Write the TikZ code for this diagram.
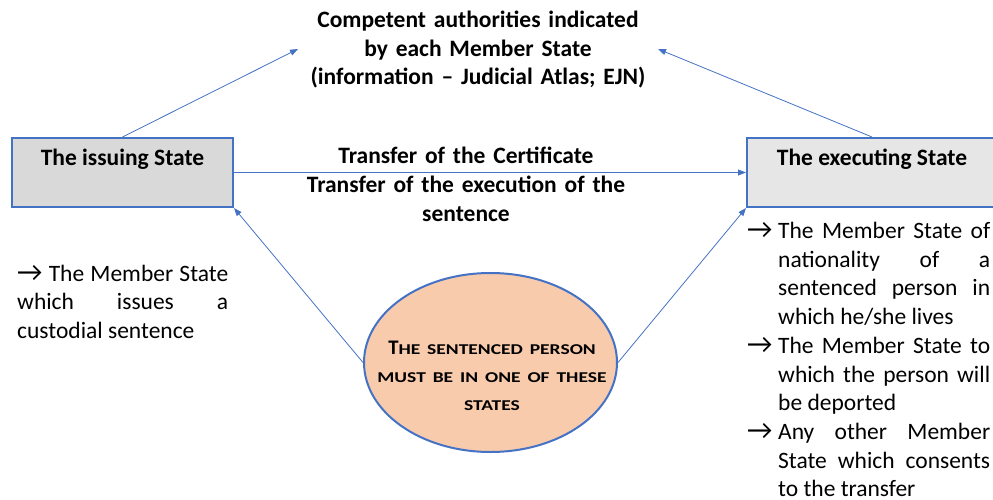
\documentclass[tikz,border=0pt]{standalone}
\usepackage{fontspec}
\setmainfont{Carlito}
\newfontfamily\arrowfont{DejaVu Sans}
\newfontfamily\widefont[FakeStretch=1.3]{Carlito}
\usetikzlibrary{arrows.meta,shapes.geometric}

\definecolor{wordblue}{HTML}{4472C4}
\definecolor{boxgray}{HTML}{D9D9D9}
\definecolor{boxlight}{HTML}{E7E6E6}
\definecolor{peach}{HTML}{F8CBAD}
\newcommand{\itemarrow}{{\fontsize{28}{28.7}\selectfont\iffontchar\font"2192 \symbol{"2192}\else{\arrowfont →}\fi}}
\newcommand{\hangarrow}{\hangindent=28pt\hangafter=1\makebox[28pt][l]{\hspace{-3pt}\itemarrow}}
\newcommand{\smallcapstext}[1]{{\widefont\fontsize{15}{28}\selectfont\bfseries #1}}

\begin{document}
\begin{tikzpicture}[x=1pt, y=-1pt,
  every node/.style={inner sep=0pt, font=\fontsize{23.5}{28.7}\selectfont},
  statebox/.style={draw=wordblue, line width=2pt, minimum width=221pt, minimum height=69pt,
    text height=16pt, text depth=31pt, font=\fontsize{23.5}{28.7}\selectfont\bfseries},
  boldtext/.style={text width=420pt, align=center, anchor=base, font=\fontsize{23.5}{28.7}\selectfont\bfseries},
  link/.style={draw=wordblue, line width=0.8pt, -{Triangle[length=8pt,width=6pt]}}]
\useasboundingbox (0,0) rectangle (993,500);
% the two states
\node[statebox, fill=boxgray] (issuing) at (122.5,172.5) {The issuing State};
\node[statebox, fill=boxlight, minimum width=250pt] (executing) at (872,172.5) {The executing State};
% texts
\node[boldtext] (authorities) at (478,27.5) {Competent authorities indicated\\ by each Member State\\ (information -- Judicial Atlas; EJN)};
\node[boldtext] (transfer) at (466,164) {Transfer of the Certificate\\ Transfer of the execution of the\\ sentence};
\node[anchor=base west, text width=211pt, align=justify] (issuingnote) at (17,281)
  {\itemarrow\ The Member State\linebreak which issues a\linebreak custodial sentence};
\node[anchor=base west, text width=240pt, align=justify] (executingnote) at (750,238.5)
  {\hangarrow The Member State of\linebreak nationality of a\linebreak sentenced person in\linebreak which he/she lives\par
   \hangarrow The Member State to\linebreak which the person will\linebreak be deported\par
   \hangarrow Any other Member\linebreak State which consents\linebreak to the transfer\par};
% the sentenced person
\node[ellipse, draw=wordblue, line width=2pt, fill=peach, minimum width=253pt, minimum height=179pt] (person) at (490.5,362.5) {};
\node[boldtext, text width=240pt, font=\fontsize{20.7}{28}\selectfont\bfseries] (personnote) at (492,354)
  {T\smallcapstext{HE SENTENCED PERSON}\\ \smallcapstext{MUST BE IN ONE OF THESE}\\ \smallcapstext{STATES}};
% connectors
\coordinate (authW) at (298,49);
\coordinate (authE) at (658,49);
\draw[link] (issuing.north) -- (authW);
\draw[link] (executing.north) -- (authE);
\draw[link] (issuing.east) -- (executing.west);
\draw[link] (person.west) -- (issuing.south east);
\draw[link] (person.east) -- (executing.south west);
\end{tikzpicture}
\end{document}
